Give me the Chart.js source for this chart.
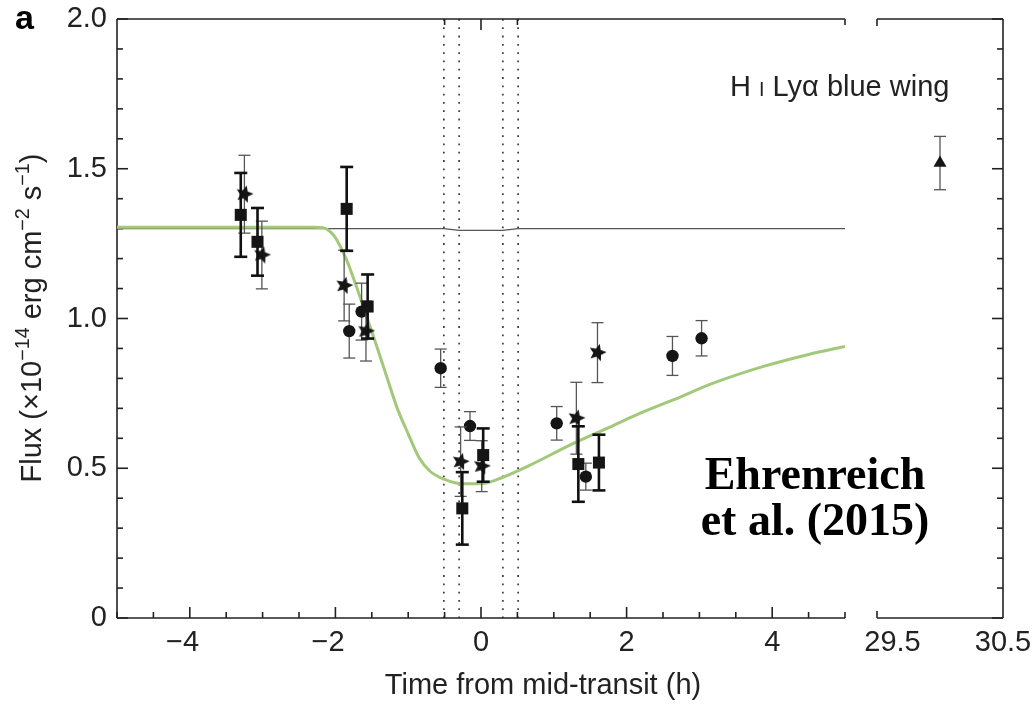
<!DOCTYPE html>
<html>
<head>
<meta charset="utf-8">
<script src="https://cdn.jsdelivr.net/npm/chart.js@4.4.1/dist/chart.umd.min.js"></script>
<style>
  html, body { margin: 0; padding: 0; background: #fff; }
  #wrap { position: relative; width: 1035px; height: 704px; }
  #main { position: absolute; left: 0; top: 0; }
  #side { position: absolute; left: 860px; top: 0; }
</style>
</head>
<body>
<div id="wrap">
  <canvas id="main" width="1035" height="704"></canvas>
  <canvas id="side" width="175" height="704"></canvas>
</div>
<script>
// squares (thick error bars)
const sqTime = [-3.30, -3.07, -1.845, -1.557, -0.257, 0.03, 1.337, 1.62];
const sqFlux = [1.346, 1.256, 1.366, 1.040, 0.366, 0.544, 0.514, 0.519];
const sqErr  = [0.140, 0.113, 0.140, 0.107, 0.121, 0.089, 0.126, 0.093];

// stars
const stTime = [-3.25, -3.01, -1.88, -1.58, -0.28, 0.01, 1.31, 1.60];
const stFlux = [1.415, 1.212, 1.110, 0.958, 0.522, 0.507, 0.667, 0.886];
const stErr  = [0.130, 0.113, 0.118, 0.100, 0.116, 0.085, 0.120, 0.100];

// circles
const ciTime = [-1.81, -1.64, -0.554, -0.151, 1.04, 1.44, 2.63, 3.03];
const ciFlux = [0.958, 1.023, 0.834, 0.641, 0.650, 0.472, 0.875, 0.934];
const ciErr  = [0.090, 0.095, 0.064, 0.048, 0.056, 0.045, 0.065, 0.059];

// late visit (right panel)
const lateTime = [29.93];
const lateFlux = [1.519];
const lateErr  = [0.089];

// model curve (green) and out-of-transit reference (grey)
const modelTime = [-5, -3, -2.3, -2.17, -2.05, -1.98, -1.845, -1.71, -1.57, -1.43, -1.295, -1.15, -1.0, -0.85, -0.7, -0.5, -0.25, 0.05, 0.3, 0.67, 1.27, 1.73, 2.18, 2.64, 3.19, 3.88, 4.5, 5.0];
const modelFlux = [1.305, 1.305, 1.305, 1.303, 1.285, 1.262, 1.195, 1.106, 1.006, 0.906, 0.806, 0.70, 0.615, 0.535, 0.49, 0.463, 0.448, 0.45, 0.47, 0.51, 0.583, 0.633, 0.683, 0.728, 0.784, 0.84, 0.88, 0.907];
const refTime = [-5, -0.51, -0.30, 0.30, 0.51, 5];
const refFlux = [1.30, 1.30, 1.294, 1.294, 1.30, 1.30];

const contactTimes = [-0.51, -0.30, 0.30, 0.51];
const topTicks = [-0.5, 0, 0.5];

// minus signs hang left of the tick, so pad them with an en space
const xLabelTicks = [-4, -2, 0, 2, 4];
const xLabelText  = ['\u22124\u2002', '\u22122\u2002', '0', '2', '4'];
const yLabelTicks = [0, 0.5, 1, 1.5, 2];
const yLabelText  = ['0', '0.5', '1.0', '1.5', '2.0'];
const sideTicks   = [29.5, 30.5];
const sideText    = ['29.5', '30.5'];

const ink = '#151515';
const axisColor = '#222';
const sans = '"Liberation Sans", Arial, Helvetica, sans-serif';
const serif = '"Liberation Serif", "Times New Roman", serif';

function pts(xs, ys) { return xs.map((x, i) => ({ x: x, y: ys[i] })); }
function findLabel(list, text, v) {
  const i = list.findIndex(t => Math.abs(t - v) < 1e-6);
  return i < 0 ? '' : text[i];
}
function line(ctx, x1, y1, x2, y2) {
  ctx.beginPath(); ctx.moveTo(x1, y1); ctx.lineTo(x2, y2); ctx.stroke();
}

function makeStar(size) {
  const c = document.createElement('canvas');
  c.width = c.height = size;
  const g = c.getContext('2d');
  g.translate(size / 2, size / 2);
  g.rotate(0.25);
  g.beginPath();
  for (let k = 0; k < 10; k++) {
    const r = k % 2 ? size * 0.22 : size * 0.48;
    const a = -Math.PI / 2 + k * Math.PI / 5;
    g.lineTo(r * Math.cos(a), r * Math.sin(a));
  }
  g.closePath();
  g.fillStyle = ink;
  g.fill();
  return c;
}
const starImg = makeStar(19);

const thick = { color: '#111', width: 2.6, cap: 13 };
const thin = { color: '#555', width: 1.3, cap: 12 };

// error bars, drawn under each dataset's markers
const errorBars = {
  id: 'errorBars',
  beforeDatasetDraw(chart, args) {
    const ds = chart.data.datasets[args.index];
    if (!ds.errors) return;
    const ctx = chart.ctx, xs = chart.scales.x, ys = chart.scales.y;
    const st = ds.errStyle;
    ctx.save();
    ctx.strokeStyle = st.color;
    ctx.lineWidth = st.width;
    ds.data.forEach((p, i) => {
      const px = xs.getPixelForValue(p.x);
      const hi = ys.getPixelForValue(p.y + ds.errors[i]);
      const lo = ys.getPixelForValue(p.y - ds.errors[i]);
      line(ctx, px, hi, px, lo);
      line(ctx, px - st.cap / 2, hi, px + st.cap / 2, hi);
      line(ctx, px - st.cap / 2, lo, px + st.cap / 2, lo);
    });
    ctx.restore();
  }
};

function drawRich(ctx, parts, x, y, size, align) {
  let total = 0;
  parts.forEach(p => {
    ctx.font = (p.small ? size * 0.68 : size) + 'px ' + sans;
    p.w = ctx.measureText(p.t).width;
    total += p.w;
  });
  let cx = align === 'left' ? x : x - total / 2;
  ctx.textAlign = 'left';
  ctx.textBaseline = 'alphabetic';
  parts.forEach(p => {
    ctx.font = (p.small ? size * 0.68 : size) + 'px ' + sans;
    ctx.fillText(p.t, cx, y - (p.sup ? size * 0.4 : 0));
    cx += p.w;
  });
}

const mainFrame = {
  id: 'mainFrame',
  beforeDatasetsDraw(chart) {
    const ctx = chart.ctx, xs = chart.scales.x, ys = chart.scales.y;
    const { left, right, top, bottom } = chart.chartArea;
    ctx.save();
    // transit contact lines
    ctx.strokeStyle = '#444';
    ctx.lineWidth = 1.8;
    ctx.setLineDash([1.8, 6.5]);
    contactTimes.forEach(t => {
      const px = xs.getPixelForValue(t);
      line(ctx, px, top, px, bottom);
    });
    ctx.setLineDash([]);
    // frame
    ctx.strokeStyle = axisColor;
    ctx.lineWidth = 1.6;
    line(ctx, left, top, left, bottom);
    line(ctx, left, bottom, right, bottom);
    line(ctx, left, top, right, top);
    line(ctx, right, top, right, top + 6);
    xs.ticks.forEach(t => {
      const px = xs.getPixelForValue(t.value);
      const major = findLabel(xLabelTicks, xLabelText, t.value) !== '';
      line(ctx, px, bottom, px, bottom - (major ? 11 : 6));
    });
    ys.ticks.forEach(t => {
      const py = ys.getPixelForValue(t.value);
      const major = findLabel(yLabelTicks, yLabelText, t.value) !== '';
      line(ctx, left, py, left + (major ? 11 : 6), py);
    });
    topTicks.forEach(v => {
      const px = xs.getPixelForValue(v);
      line(ctx, px, top, px, top + (v === 0 ? 11 : 6));
    });
    ctx.restore();
  },
  afterDraw(chart) {
    const ctx = chart.ctx;
    ctx.save();
    ctx.fillStyle = '#000';
    ctx.font = 'bold 34px ' + sans;
    ctx.textAlign = 'left';
    ctx.textBaseline = 'alphabetic';
    ctx.fillText('a', 15, 29);

    ctx.fillStyle = '#222';
    ctx.font = '29px ' + sans;
    ctx.textAlign = 'center';
    ctx.textBaseline = 'middle';
    ctx.fillText('Time from mid-transit (h)', 543, 686);

    // y title with superscripts
    ctx.save();
    ctx.translate(31, 318);
    ctx.rotate(-Math.PI / 2);
    drawRich(ctx, [
      { t: 'Flux (\u00d710' }, { t: '\u221214', small: true, sup: true },
      { t: ' erg cm' }, { t: '\u22122', small: true, sup: true },
      { t: ' s' }, { t: '\u22121', small: true, sup: true }, { t: ')' }
    ], 0, 10, 29, 'center');
    ctx.restore();

    // line label
    ctx.fillStyle = '#222';
    drawRich(ctx, [{ t: 'H ' }, { t: 'I', small: true }, { t: ' Ly\u03b1 blue wing' }], 730, 96, 29, 'left');

    // citation
    ctx.fillStyle = '#000';
    ctx.font = 'bold 46px ' + serif;
    ctx.textAlign = 'center';
    ctx.textBaseline = 'alphabetic';
    ctx.fillText('Ehrenreich', 815, 489);
    ctx.fillText('et al. (2015)', 815, 535);
    ctx.restore();
  }
};

const sideFrame = {
  id: 'sideFrame',
  beforeDatasetsDraw(chart) {
    const ctx = chart.ctx, ys = chart.scales.y;
    const { left, right, top, bottom } = chart.chartArea;
    ctx.save();
    ctx.strokeStyle = axisColor;
    ctx.lineWidth = 1.6;
    line(ctx, left, top, right, top);
    line(ctx, left, bottom, right, bottom);
    line(ctx, right, top, right, bottom);
    line(ctx, left, top, left, top + 7);
    line(ctx, left, bottom, left, bottom - 7);
    ys.ticks.forEach(t => {
      const py = ys.getPixelForValue(t.value);
      const major = findLabel(yLabelTicks, yLabelText, t.value) !== '';
      line(ctx, right, py, right - (major ? 11 : 6), py);
    });
    ctx.restore();
  }
};

const tickFont = { family: sans, size: 29 };

function fitX(s) { s.height = 86; s.paddingLeft = 0; s.paddingRight = 0; }

new Chart(document.getElementById('main'), {
  type: 'scatter',
  data: {
    datasets: [
      { data: pts(sqTime, sqFlux), errors: sqErr, errStyle: thick,
        pointStyle: 'rect', pointRadius: 8.5, backgroundColor: ink, borderWidth: 0 },
      { data: pts(stTime, stFlux), errors: stErr, errStyle: thin,
        pointStyle: starImg, pointRadius: 9 },
      { data: pts(ciTime, ciFlux), errors: ciErr, errStyle: thin,
        pointStyle: 'circle', pointRadius: 6.2, backgroundColor: ink, borderWidth: 0 },
      { type: 'line', data: pts(modelTime, modelFlux), borderColor: '#a2c87a', borderWidth: 3,
        pointRadius: 0, cubicInterpolationMode: 'monotone', fill: false },
      { type: 'line', data: pts(refTime, refFlux), borderColor: '#555', borderWidth: 1.3,
        pointRadius: 0, tension: 0, fill: false }
    ]
  },
  options: {
    responsive: false,
    animation: false,
    events: [],
    layout: { padding: { left: 0, right: 190, top: 19, bottom: 0 } },
    plugins: { legend: { display: false }, tooltip: { enabled: false } },
    scales: {
      x: {
        type: 'linear', min: -5, max: 5,
        grid: { display: false, drawTicks: false },
        border: { display: false },
        ticks: {
          stepSize: 0.5, autoSkip: false, maxRotation: 0, padding: 8,
          font: tickFont, color: '#222',
          callback: v => findLabel(xLabelTicks, xLabelText, v)
        },
        afterFit: fitX
      },
      y: {
        type: 'linear', min: 0, max: 2,
        grid: { display: false, drawTicks: false },
        border: { display: false },
        ticks: {
          stepSize: 0.1, autoSkip: false, padding: 10,
          font: tickFont, color: '#222',
          callback: v => findLabel(yLabelTicks, yLabelText, v)
        },
        afterFit: s => { s.width = 117; s.paddingTop = 0; s.paddingBottom = 0; }
      }
    }
  },
  plugins: [errorBars, mainFrame]
});

new Chart(document.getElementById('side'), {
  type: 'scatter',
  data: {
    datasets: [
      { data: pts(lateTime, lateFlux), errors: lateErr, errStyle: thin,
        pointStyle: 'triangle', pointRadius: 7.5, backgroundColor: ink, borderWidth: 0 }
    ]
  },
  options: {
    responsive: false,
    animation: false,
    events: [],
    layout: { padding: { left: 17, right: 32, top: 19, bottom: 0 } },
    plugins: { legend: { display: false }, tooltip: { enabled: false } },
    scales: {
      x: {
        type: 'linear', min: 29.36, max: 30.5,
        grid: { display: false, drawTicks: false },
        border: { display: false },
        afterBuildTicks: s => { s.ticks = sideTicks.map(v => ({ value: v })); },
        ticks: {
          autoSkip: false, maxRotation: 0, padding: 8,
          font: tickFont, color: '#222',
          callback: v => findLabel(sideTicks, sideText, v)
        },
        afterFit: fitX
      },
      y: {
        type: 'linear', position: 'right', min: 0, max: 2,
        grid: { display: false, drawTicks: false },
        border: { display: false },
        ticks: { stepSize: 0.1, display: false },
        afterFit: s => { s.width = 0; s.paddingTop = 0; s.paddingBottom = 0; }
      }
    }
  },
  plugins: [errorBars, sideFrame]
});
</script>
</body>
</html>
